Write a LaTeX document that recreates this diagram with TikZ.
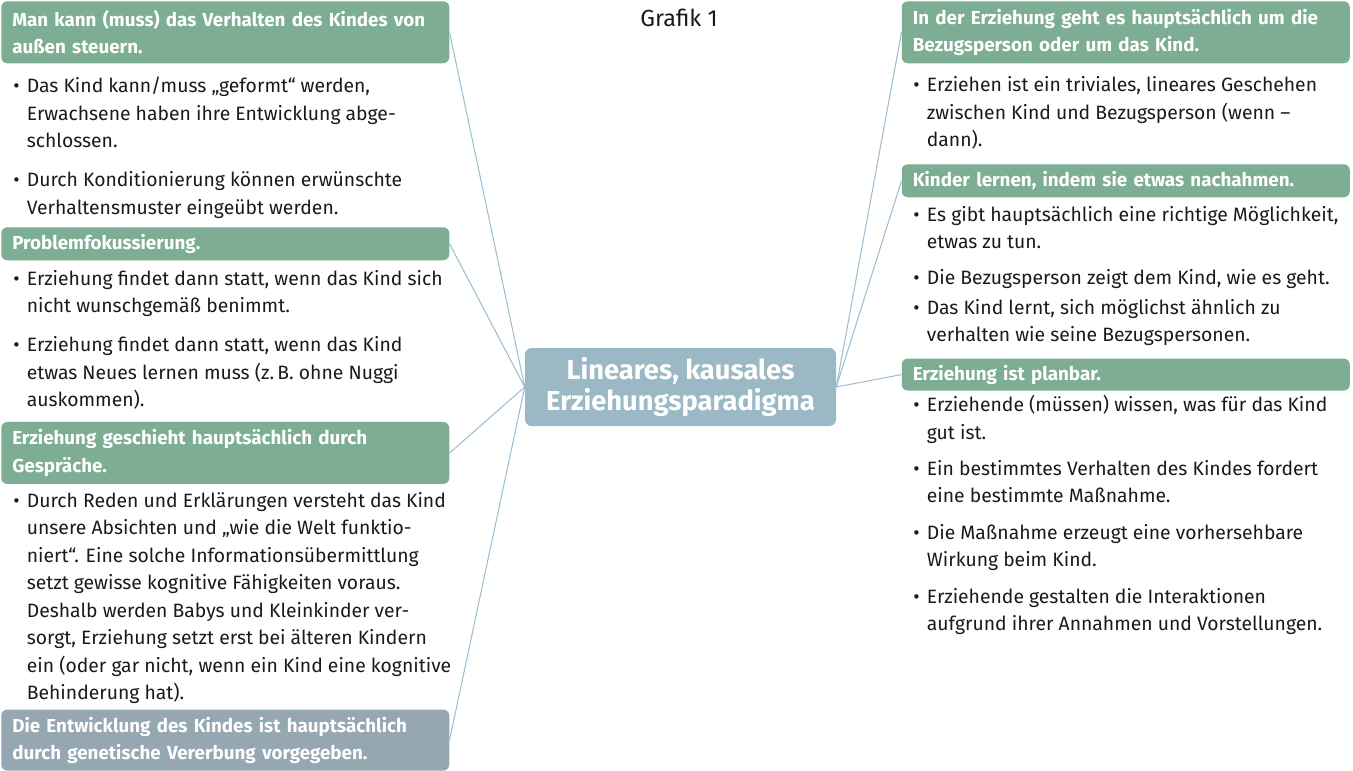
\documentclass[tikz,border=0pt]{standalone}
\usepackage{fontspec}
\setmainfont{Fira Sans}
\definecolor{hgreen}{HTML}{7DAE94}
\definecolor{hgray}{HTML}{95A8B1}
\definecolor{cblue}{HTML}{9BB9C4}
\definecolor{lblue}{HTML}{9CBFD3}
\definecolor{txt}{HTML}{1A1A1A}
\newcommand{\bul}{\makebox[10.2pt][l]{•}}
\tikzset{
  hdr/.style={fill=hgreen, rounded corners=4.5pt, anchor=north west, inner xsep=8.25pt, inner ysep=0pt,
    minimum width=336pt, text width=319.5pt, align=left, text=white,
    font=\fontsize{14.1}{20.4}\selectfont\bfseries},
  hdrgray/.style={hdr, fill=hgray},
  body/.style={anchor=base west, inner sep=0pt, text=txt, font=\fontsize{14.5}{20.6}\selectfont},
  conn/.style={draw=lblue, line width=0.8pt},
  center/.style={fill=cblue, rounded corners=5pt, minimum width=233.25pt, minimum height=58.5pt,
    text=white, align=center, inner sep=0pt, font=\fontsize{20.5}{23.5}\selectfont\bfseries},
}
\begin{document}
\begin{tikzpicture}[x=0.75pt,y=-0.75pt]
\useasboundingbox (0,0) rectangle (1353,771);
% title
\node[text=txt, font=\fontsize{17.5}{20}\selectfont] (title) at (679,18) {Grafik 1};
% centre
\node[center] (c) at (680.5,387) {Lineares, kausales\\Erziehungsparadigma};
% left column
\node[hdr, minimum height=46.5pt] (l1) at (1,1) {Man kann (muss) das Verhalten des Kindes von\\au\ss en steuern.};
\node[body] (l1a) at (13,92.7) {\bul\parbox[t]{330pt}{Das Kind kann/muss „geformt“ werden,\\Erwachsene haben ihre Entwicklung abge-\\schlossen.}};
\node[body] (l1b) at (13,186.7) {\bul\parbox[t]{330pt}{Durch Konditionierung können erwünschte\\Verhaltensmuster eingeübt werden.}};
\node[hdr, minimum height=24.75pt] (l2) at (1,227) {Problemfokussierung.};
\node[body] (l2a) at (13,285) {\bul\parbox[t]{330pt}{Erziehung findet dann statt, wenn das Kind sich\\nicht wunschgemäß benimmt.}};
\node[body] (l2b) at (13,351.7) {\bul\parbox[t]{330pt}{Erziehung findet dann statt, wenn das Kind\\etwas Neues lernen muss (z.\,B. ohne Nuggi\\auskommen).}};
\node[hdr, minimum height=46.5pt] (l3) at (1,421.7) {Erziehung geschieht hauptsächlich durch\\Gespräche.};
\node[body] (l3a) at (13,507.3) {\bul\parbox[t]{330pt}{Durch Reden und Erklärungen versteht das Kind\\unsere Absichten und „wie die Welt funktio-\\niert“. Eine solche Informationsübermittlung\\setzt gewisse kognitive Fähigkeiten voraus.\\Deshalb werden Babys und Kleinkinder ver-\\sorgt, Erziehung setzt erst bei älteren Kindern\\ein (oder gar nicht, wenn ein Kind eine kognitive\\Behinderung hat).}};
\node[hdrgray, minimum height=45.75pt] (l4) at (1,709.3) {Die Entwicklung des Kindes ist hauptsächlich\\durch genetische Vererbung vorgegeben.};
% right column
\node[hdr, minimum height=46.5pt] (r1) at (901.5,1) {In der Erziehung geht es hauptsächlich um die\\Bezugsperson oder um das Kind.};
\node[body] (r1a) at (913,91.7) {\bul\parbox[t]{330pt}{Erziehen ist ein triviales, lineares Geschehen\\zwischen Kind und Bezugsperson (wenn –\\dann).}};
\node[hdr, minimum height=24.75pt] (r2) at (901.5,164) {Kinder lernen, indem sie etwas nachahmen.};
\node[body] (r2a) at (913,221) {\bul\parbox[t]{330pt}{Es gibt hauptsächlich eine richtige Möglichkeit,\\etwas zu tun.}};
\node[body] (r2b) at (913,284) {\bul\parbox[t]{330pt}{Die Bezugsperson zeigt dem Kind, wie es geht.}};
\node[body] (r2c) at (913,314.2) {\bul\parbox[t]{330pt}{Das Kind lernt, sich möglichst ähnlich zu\\verhalten wie seine Bezugspersonen.}};
\node[hdr, minimum height=24pt] (r3) at (901.5,358.3) {Erziehung ist planbar.};
\node[body] (r3a) at (913,411.7) {\bul\parbox[t]{330pt}{Erziehende (müssen) wissen, was für das Kind\\gut ist.}};
\node[body] (r3b) at (913,475) {\bul\parbox[t]{330pt}{Ein bestimmtes Verhalten des Kindes fordert\\eine bestimmte Maßnahme.}};
\node[body] (r3c) at (913,539.3) {\bul\parbox[t]{330pt}{Die Maßnahme erzeugt eine vorhersehbare\\Wirkung beim Kind.}};
\node[body] (r3d) at (913,603.3) {\bul\parbox[t]{330pt}{Erziehende gestalten die Interaktionen\\aufgrund ihrer Annahmen und Vorstellungen.}};
% connectors
\draw[conn] (l1.east) -- (c.west);
\draw[conn] (l2.east) -- (c.west);
\draw[conn] (l3.east) -- (c.west);
\draw[conn] (l4.east) -- (c.west);
\draw[conn] (c.east) -- (r1.west);
\draw[conn] (c.east) -- (r2.west);
\draw[conn] (c.east) -- (r3.west);
\end{tikzpicture}
\end{document}
